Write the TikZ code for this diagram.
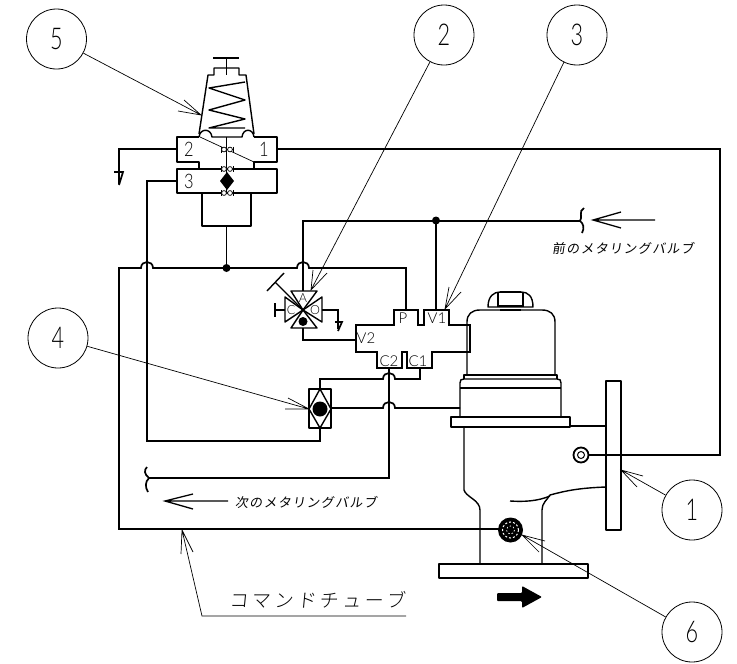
\documentclass[tikz,border=0pt]{standalone}
\usepackage{fontspec}
\setmainfont{Lato Light}
\newfontfamily\lb{Lato}
\newfontfamily\jps[FakeSlant=0.15,LetterSpace=10]{Noto Sans CJK JP}
\newfontfamily\jpb[FakeSlant=0.1,LetterSpace=19]{Noto Sans CJK JP Light}
\newcommand{\dg}[1]{\scalebox{0.72}[1]{#1}}
\newcommand{\nw}[1]{\scalebox{0.82}[1]{#1}}
\tikzset{
  x=1pt,y=-1pt,
  pipe/.style={line width=1.7pt,line join=miter},
  body/.style={line width=1.4pt,line join=round},
  thin line/.style={line width=0.7pt},
  leader/.style={line width=0.7pt},
  num/.style={draw,circle,line width=0.8pt,minimum size=60pt,inner sep=0pt,font=\fontsize{30}{30}\selectfont,text height=21.5pt,text depth=0pt},
  lab/.style={inner sep=0pt,font=\fontsize{15}{15}\selectfont},
  tinylab/.style={inner sep=0pt,font=\fontsize{12.5}{13}\selectfont},
  biglab/.style={inner sep=0pt,font=\fontsize{20}{20}\selectfont},
  jpsmall/.style={inner sep=0pt,anchor=west,font=\fontsize{13}{14}\jps},
  jpbig/.style={inner sep=0pt,anchor=west,font=\fontsize{19}{20}\jpb},
}
\begin{document}
\begin{tikzpicture}
\useasboundingbox (0,0) rectangle (737,664);
% numbered circles
\node[num] (c5) at (56.5,39) {\dg{5}};
\node[num] (c2) at (444,35) {\dg{2}};
\node[num] (c3) at (577,35) {\dg{3}};
\node[num] (c4) at (58,338) {\dg{4}};
\node[num] (c1) at (692,510) {\dg{1}};
\node[num] (c6) at (692,632) {\dg{6}};
\coordinate (t5) at (201,115);
\coordinate (t2) at (311,290);
\coordinate (t3) at (445,309);
\coordinate (t4) at (309,409);
\coordinate (t1) at (621,470);
\coordinate (t6) at (522,535);
\draw[leader] (c5) -- (t5) (184,100) -- (t5) -- (178,111);
\draw[leader] (c2) -- (t2) (327,273) -- (t2) -- (313,270);
\draw[leader] (c3) -- (t3) (461,292) -- (t3) -- (449,287);
\draw[leader] (c4) -- (t4) (288,398) -- (t4) -- (285,409);
\draw[leader] (c1) -- (t1) (643,476) -- (t1) -- (637,487);
\draw[leader] (c6) -- (t6) (545,541) -- (t6) -- (539,552);
% regulator top
\draw[body] (213,58) -- (239,58) (226.5,58) -- (226.5,75);
\draw[body] (199,134) -- (208,75) -- (214,75) -- (214,68) -- (239,68) -- (239,75) -- (246,75) -- (254,134);
\draw[body] (245,82) -- (209,88) -- (245,100) -- (209,110) -- (245,119) -- (209,128) -- (245,128);
% block 1-2
\draw[body] (199,137) -- (177,137) -- (177,162) -- (199,162) -- (199,169)
  (254,169) -- (254,162) -- (277,162) -- (277,137) -- (254,137);
\draw[body] (199,137) .. controls (200,128) and (211,128) .. (212,137) -- (242,137) .. controls (243,128) and (253,128) .. (254,137);
\draw[body] (177,169) rectangle (277,193);
\draw[body] (202,193) -- (202,226) -- (251,226) -- (251,193);
\draw[thin line] (226.5,137) -- (226.5,193) (200,137) -- (254,162);
\foreach \yy in {149.5,169,193}{
  \draw[thin line] (221,\yy-3) -- (221,\yy+3) (233,\yy-3) -- (233,\yy+3) (221,\yy) -- (233,\yy);
  \draw[thin line,fill=white] (224,\yy) circle[radius=2.4] (230,\yy) circle[radius=2.4];
}
\fill (227,172) -- (234,181) -- (227,190) -- (220,181) -- cycle;
\node[biglab] (p2) at (189,149) {\nw{2}};
\node[biglab] (p1) at (264,149) {\nw{1}};
\node[biglab] (p3) at (189,181) {\nw{3}};
% pipes
\draw[pipe] (277,149) -- (720,149) -- (720,455) -- (589,455);
\draw[pipe] (177,149) -- (119,149) -- (119,184);
\draw[pipe] (114,172) -- (123,172) -- (119,185);
\draw[pipe] (177,181) -- (147,181) -- (147,441) -- (320,441) -- (320,428);
\draw[pipe] (500,529) -- (119,529) -- (119,268) -- (141,268) .. controls (141,260) and (153,260) .. (153,268) -- (297,268) .. controls (297,260) and (309,260) .. (309,268) -- (406,268) -- (406,310);
\draw[pipe] (226.5,226) -- (226.5,268);
\fill (226.5,268) circle[radius=4];
\draw[pipe] (303,291) -- (303,221) -- (580,221);
\draw[pipe] (436,221) -- (436,310);
\fill (436,220.5) circle[radius=4];
\draw[pipe] (584,208) .. controls (578,211) and (583,218) .. (580,221) .. controls (583,223) and (585,228) .. (582,233);
\draw[line width=1.3pt] (655,220) -- (593,220) (621,212) -- (593,220) -- (621,228);
% three way valve
\draw[body] (303,310) -- (291,291) -- (317,291) -- cycle;
\draw[body] (303,310) -- (291,328) -- (317,328) -- cycle;
\draw[body] (303,310) -- (285,297) -- (285,322) -- cycle;
\draw[body] (303,310) -- (322,297) -- (322,322) -- cycle;
\fill (303,321.5) circle[radius=4.5];
\draw[body] (303,310) -- (275,282) (267,291) -- (284,273);
\draw[body] (285,310) -- (275,310) (275,303) -- (275,317);
\draw[pipe] (322,310) -- (338,310) -- (338,329);
\draw[pipe] (335,322) -- (342,322) -- (338,331);
\draw[pipe] (303,328) -- (303,340) -- (356,340);
\node[tinylab] (pa) at (303,298) {A};
\node[tinylab] (pc) at (291,310) {C};
\node[tinylab] (po) at (315,310) {O};
% manifold
\draw[pipe,fill=white] (356,325) -- (394,325) -- (394,310) -- (418,310) -- (418,325) -- (424,325) -- (424,310) -- (449,310) -- (449,325) -- (470,325) -- (470,352) -- (432,352) -- (432,368) -- (407,368) -- (407,352) -- (402,352) -- (402,368) -- (377,368) -- (377,352) -- (356,352) -- cycle;
\node[lab] (v2) at (366,338) {V2};
\node[lab] (pp) at (403,318) {P};
\node[lab] (v1) at (437,318) {V1};
\node[lab] (cc2) at (389,361) {C2};
\node[lab] (cc1) at (418,361) {C1};
% check valve
\draw[pipe] (389,368) -- (389,478) -- (149,478);
\draw[pipe] (420,368) -- (420,379) -- (395,379) .. controls (395,371) and (383,371) .. (383,379) -- (320,379) -- (320,389);
\draw[pipe] (331,408) -- (383,408) .. controls (383,400) and (395,400) .. (395,408) -- (460,408);
\draw[body,fill=white] (309,389) rectangle (331,428);
\draw[body] (320,389) -- (309,409) -- (320,428) -- (331,409) -- cycle;
\fill (320,409) circle[radius=7.5];
% lower left
\draw[pipe] (147,467) .. controls (144,470) and (144,474) .. (149,478) .. controls (145,482) and (145,487) .. (148,492);
\draw[line width=1.3pt] (228,501) -- (165,501) (193,494) -- (165,501) -- (193,509);
\node[jpsmall] (tx1) at (235,502) {次のメタリングバルブ};
\node[jpsmall] (tx2) at (552,248) {前のメタリングバルブ};
\node[jpbig] (tx3) at (229,600) {コマンドチューブ};
\coordinate (t7) at (182,530);
\draw[leader] (406,616) -- (202,616) -- (t7) (181,554) -- (t7) -- (193,552);
% actuator
\draw[body] (467,375) -- (467,322) .. controls (467,314) and (472,310) .. (480,310) -- (542,310) .. controls (550,310) and (555,314) .. (555,322) -- (555,375);
\draw[body] (464,379) -- (464,375) -- (557,375) -- (557,379);
\draw[body] (460,417) -- (460,383) .. controls (460,380) and (461,379) .. (464,379) -- (557,379) .. controls (560,379) and (561,380) .. (561,383) -- (561,417);
\draw[body] (460,388) -- (561,388);
\draw[body] (451,417) rectangle (570,427);
\draw[body] (488,307) .. controls (488,296) and (494,292) .. (500,292) -- (521,292) .. controls (528,292) and (533,296) .. (533,307) -- cycle;
\draw[body] (498,292) -- (498,307) (523,292) -- (523,307);
\draw[line width=1.8pt] (500,292) -- (521,292) (498,306) -- (523,306);
\draw[body] (500,310) -- (521,310);
\draw[body] (464,427) -- (464,490) .. controls (466,497) and (480,500) .. (480,510) -- (480,564);
\draw[body] (542,564) -- (542,510) .. controls (542,503) and (547,500) .. (550,495) .. controls (565,491) and (578,488) .. (606,487);
\draw[body] (510,501) .. controls (525,502) and (538,501) .. (550,496);
\draw[body] (570,426) -- (606,426);
\draw[body] (606,381) rectangle (621,530);
\draw[body] (439,564) rectangle (588,578);
% port circles
\draw[line width=1.8pt,fill=white] (581,455) circle[radius=7.5];
\draw[line width=1pt] (581,455) circle[radius=3.5];
\fill (510.5,530) circle[radius=12.5];
\draw[white,line width=1pt,dash pattern=on 2pt off 2pt] (510.5,530) circle[radius=8];
\draw[white,line width=0.7pt,dash pattern=on 1.5pt off 2pt] (510.5,530) circle[radius=4];
% flow arrow
\fill[rounded corners=1pt] (497,593) -- (522,593) -- (522,586) -- (542,597) -- (522,608) -- (522,601) -- (497,601) -- cycle;
\end{tikzpicture}
\end{document}
